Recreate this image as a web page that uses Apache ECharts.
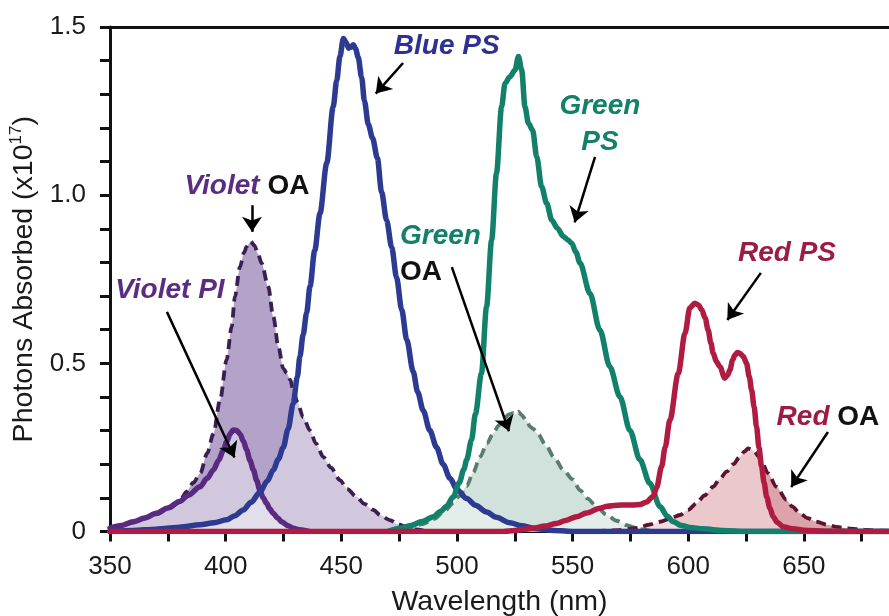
<!DOCTYPE html>
<html>
<head>
<meta charset="utf-8">
<script src="https://cdn.jsdelivr.net/npm/echarts@6/dist/echarts.min.js"></script>
<style>
  html, body { margin: 0; padding: 0; background: #ffffff; }
  #chart { width: 889px; height: 616px; }
</style>
</head>
<body>
<div id="chart"></div>
<script>
// ---- Absorption spectra (wavelength in nm, photons absorbed in units of 1e17) ----

// Violet optical absorber (dashed, filled)
const violetOA_nm  = [350, 355, 360, 365, 370, 375, 380, 381, 383, 386, 389, 392, 394.7, 397.6, 400.4, 402.6, 404, 406.2, 408, 409.1, 410.8, 412.5, 414, 415.6, 418.4, 420.6, 422.8, 424.9, 426.5, 428, 429.2, 431, 433.5, 436.5, 439, 442.2, 445.5, 449.4, 452.5, 456.6, 460, 463.8, 467, 471, 474.5, 478.3, 482, 487];
const violetOA_val = [0.008, 0.017, 0.027, 0.039, 0.051, 0.067, 0.086, 0.100, 0.118, 0.145, 0.173, 0.232, 0.290, 0.391, 0.510, 0.609, 0.698, 0.787, 0.830, 0.847, 0.862, 0.850, 0.825, 0.797, 0.728, 0.639, 0.549, 0.485, 0.470, 0.450, 0.421, 0.385, 0.340, 0.300, 0.262, 0.222, 0.190, 0.153, 0.127, 0.103, 0.082, 0.064, 0.048, 0.034, 0.022, 0.013, 0.006, 0.0];

// Violet photo-inhibitor
const violetPI_nm  = [350, 355, 360, 365, 370, 375, 380, 384, 388.9, 392, 394.7, 397, 399, 400.5, 401.9, 403.3, 404.8, 406.2, 407.7, 409.1, 410.5, 412, 413.4, 414.8, 416.2, 417.7, 419, 420.6, 422.5, 424.2, 427, 429.2, 432, 436];
const violetPI_val = [0.010, 0.018, 0.029, 0.040, 0.054, 0.070, 0.089, 0.108, 0.133, 0.158, 0.183, 0.212, 0.242, 0.268, 0.290, 0.302, 0.300, 0.290, 0.268, 0.242, 0.212, 0.183, 0.152, 0.123, 0.100, 0.084, 0.068, 0.054, 0.040, 0.029, 0.017, 0.010, 0.005, 0.0];

// Blue photosensitiser
const bluePS_nm  = [350, 360, 370, 374.5, 380, 388.9, 395, 400.4, 404, 407.6, 411, 414.8, 418, 420.6, 422.8, 424.9, 427, 429.2, 431, 432.1, 433.5, 435, 436.5, 438.5, 440.8, 443.7, 446.5, 448, 449.4, 450.9, 452, 453.2, 454, 455.2, 456.2, 457.3, 458.8, 460, 461.7, 463.5, 465.6, 467.4, 469.6, 471.8, 473.9, 476.1, 478.3, 481.1, 483, 485.4, 488.3, 491.2, 494, 497, 500, 504.2, 508, 512.8, 517, 522.9, 528, 533, 540, 550, 686.8];
const bluePS_val = [0.0, 0.003, 0.007, 0.010, 0.013, 0.020, 0.026, 0.035, 0.047, 0.064, 0.087, 0.117, 0.150, 0.183, 0.215, 0.250, 0.305, 0.380, 0.460, 0.520, 0.585, 0.650, 0.730, 0.835, 0.946, 1.095, 1.263, 1.340, 1.412, 1.466, 1.455, 1.437, 1.440, 1.447, 1.435, 1.410, 1.350, 1.280, 1.210, 1.170, 1.110, 1.010, 0.925, 0.845, 0.755, 0.660, 0.570, 0.475, 0.415, 0.360, 0.300, 0.250, 0.200, 0.158, 0.125, 0.098, 0.078, 0.058, 0.042, 0.026, 0.017, 0.010, 0.004, 0.0, 0.0];

// Green optical absorber (dashed, filled)
const greenOA_nm  = [470, 475, 480, 485, 490, 494, 498.4, 501, 504.2, 507, 510, 513, 515.7, 518, 520, 522.5, 524.3, 525.5, 526.5, 528, 530, 531.6, 533, 535, 538.8, 542, 546, 550, 553.2, 556.5, 560.4, 564.7, 569, 573.3, 576.2, 580, 585];
const greenOA_val = [0.0, 0.004, 0.012, 0.022, 0.037, 0.056, 0.084, 0.105, 0.135, 0.175, 0.222, 0.262, 0.292, 0.315, 0.332, 0.348, 0.352, 0.348, 0.356, 0.346, 0.330, 0.312, 0.305, 0.290, 0.252, 0.220, 0.183, 0.155, 0.123, 0.098, 0.074, 0.050, 0.032, 0.019, 0.013, 0.006, 0.0];

// Green photosensitiser
const greenPS_nm  = [470, 475.4, 480, 485, 489.8, 493, 495.5, 498.4, 501, 503, 504.2, 506.3, 508, 510.6, 512.8, 515, 517.1, 519.3, 520.8, 522.9, 525.1, 526.6, 528, 529.4, 530.9, 532.7, 534.5, 536.6, 538.8, 541, 543.4, 546, 548, 549.6, 551.5, 553.2, 557.5, 561.8, 566.1, 570.5, 574.8, 579.1, 583.4, 587.8, 591, 593.5, 597, 600.7, 606.5, 615, 625, 686.8];
const greenPS_val = [0.0, 0.010, 0.018, 0.030, 0.044, 0.060, 0.075, 0.103, 0.145, 0.185, 0.213, 0.272, 0.350, 0.470, 0.668, 0.867, 1.065, 1.263, 1.333, 1.352, 1.372, 1.412, 1.372, 1.263, 1.214, 1.194, 1.114, 1.025, 0.976, 0.926, 0.902, 0.877, 0.867, 0.857, 0.830, 0.798, 0.708, 0.599, 0.490, 0.400, 0.300, 0.213, 0.143, 0.074, 0.045, 0.029, 0.018, 0.012, 0.008, 0.003, 0.0, 0.0];

// Red optical absorber (dashed, filled)
const redOA_nm  = [560, 570, 576.2, 579.1, 583, 587.8, 592, 596.4, 600, 603.6, 607, 610.8, 613.5, 616.6, 619.5, 622.3, 624.3, 625.9, 627.4, 628.8, 630.2, 631.7, 634.5, 638.1, 642.5, 645, 648.3, 651.5, 655.5, 660, 664.1, 669, 674.2, 680, 686.8];
const redOA_val = [0.0, 0.004, 0.009, 0.012, 0.020, 0.029, 0.038, 0.049, 0.064, 0.084, 0.107, 0.133, 0.155, 0.178, 0.200, 0.222, 0.238, 0.247, 0.244, 0.237, 0.224, 0.208, 0.173, 0.133, 0.094, 0.074, 0.054, 0.040, 0.029, 0.020, 0.014, 0.009, 0.006, 0.003, 0.002];

// Red photosensitiser
const redPS_nm  = [350, 520, 525, 533, 538, 543, 547, 551.7, 556, 561.8, 565, 569, 573, 576.2, 579.1, 582, 584.9, 586.3, 588.5, 590, 592.1, 595.7, 598.6, 600.7, 602.9, 604.5, 605.8, 607.3, 608.6, 609.8, 610.8, 612.2, 613.7, 615.8, 617, 618, 619.2, 620.2, 621.3, 622.3, 623.8, 625.2, 626.4, 627.4, 628.5, 629.5, 630.6, 631.7, 632.8, 633.9, 635.3, 636.7, 638.5, 641.1, 645.4, 650, 660, 670, 686.8];
const redPS_val = [0.0, 0.0, 0.003, 0.010, 0.016, 0.024, 0.033, 0.044, 0.055, 0.069, 0.075, 0.078, 0.079, 0.079, 0.080, 0.088, 0.105, 0.130, 0.193, 0.250, 0.332, 0.470, 0.589, 0.665, 0.679, 0.673, 0.659, 0.635, 0.599, 0.560, 0.530, 0.505, 0.490, 0.456, 0.465, 0.480, 0.510, 0.525, 0.532, 0.530, 0.520, 0.500, 0.460, 0.421, 0.370, 0.312, 0.250, 0.193, 0.145, 0.103, 0.070, 0.044, 0.027, 0.014, 0.008, 0.004, 0.001, 0.0, 0.0];

// Axis ticks and labels
const xTicks      = [350, 375, 400, 425, 450, 475, 500, 525, 550, 575, 600, 625, 650, 675];
const xTickLabels = [350, 400, 450, 500, 550, 600, 650];
const yTicks      = [0, 0.1, 0.2, 0.3, 0.4, 0.5, 0.6, 0.7, 0.8, 0.9, 1.0, 1.1, 1.2, 1.3, 1.4, 1.5];
const yTickLabels = [0, 0.5, 1.0, 1.5];

// ---- Chart ----
const FONT = "'Liberation Sans', Arial, Helvetica, sans-serif";
const pairs = (xs, ys) => xs.map((x, i) => [x, ys[i]]);
const VEIL = 'rgba(255,255,255,0.4)';

function oaSeries(name, nm, val, lineColor, fillColor) {
  return {
    name, type: 'line', data: pairs(nm, val),
    smooth: 0.3, smoothMonotone: 'x', symbol: 'none',
    lineStyle: { color: lineColor, width: 3.8, type: [10, 6], cap: 'butt' },
    areaStyle: { color: fillColor, opacity: 1 },
    emphasis: { disabled: true }, silent: true
  };
}
function psSeries(name, nm, val, lineColor) {
  return {
    name, type: 'line', data: pairs(nm, val),
    smooth: 0.3, smoothMonotone: 'x', symbol: 'none',
    lineStyle: { color: lineColor, width: 5.5, cap: 'round', join: 'round' },
    areaStyle: { color: VEIL, opacity: 1 },
    emphasis: { disabled: true }, silent: true
  };
}

const bold = (color, italic) => ({
  color, fontFamily: FONT, fontSize: 28, fontWeight: 'bold',
  fontStyle: italic ? 'italic' : 'normal', lineHeight: 36
});
const labelRich = {
  vio: bold('#5b2c83', true),
  blu: bold('#2e3192', true),
  grn: bold('#13806a', true),
  red: bold('#9d1c44', true),
  blk: bold('#111111', false)
};

// annotation labels and arrows, placed in data coordinates
const annotationLabels = [
  { coord: [409.2, 1.027], text: '{vio|Violet} {blk|OA}', align: 'center' },
  { coord: [375.9, 0.718], text: '{vio|Violet PI}', align: 'center' },
  { coord: [495.6, 1.444], text: '{blu|Blue PS}', align: 'center' },
  { coord: [475.4, 0.824], text: '{grn|Green}\n{blk|OA}', align: 'left' },
  { coord: [561.8, 1.212], text: '{grn|Green}\n{grn|PS}', align: 'center' },
  { coord: [642.7, 0.828], text: '{red|Red PS}', align: 'center' },
  { coord: [660.4, 0.340], text: '{red|Red} {blk|OA}', align: 'center' }
];
const annotationArrows = [
  [[411.4, 0.970], [411.4, 0.891]],
  [[374.6, 0.653], [403.8, 0.220]],
  [[476.7, 1.393], [464.9, 1.302]],
  [[497.8, 0.786], [522.5, 0.298]],
  [[559.7, 1.114], [550.9, 0.919]],
  [[631.4, 0.769], [616.9, 0.629]],
  [[660.4, 0.296], [644.5, 0.132]]
];

const annotationSeries = {
  name: 'annotations', type: 'line', data: [], silent: true,
  markLine: {
    silent: true, animation: false,
    symbol: ['none', 'arrow'], symbolSize: 15,
    lineStyle: { color: '#000000', width: 2.5, type: 'solid' },
    itemStyle: { color: '#000000' },
    label: { show: false },
    emphasis: { disabled: true },
    data: annotationArrows.map(a => [{ coord: a[0] }, { coord: a[1] }])
  },
  markPoint: {
    silent: true, animation: false,
    symbol: 'circle', symbolSize: 0,
    itemStyle: { color: 'rgba(0,0,0,0)' },
    data: annotationLabels.map(l => ({
      coord: l.coord,
      label: {
        show: true, position: 'inside', formatter: l.text, align: l.align,
        fontFamily: FONT, fontSize: 28, fontWeight: 'bold', color: '#111',
        lineHeight: 36, rich: labelRich
      }
    }))
  }
};

const X_MAX = 686.8;
const axisColor = '#111111';

const option = {
  animation: false,
  backgroundColor: '#ffffff',
  grid: { left: 110, top: 27, right: 0, bottom: 84.5, containLabel: false, outerBoundsMode: 'none' },
  xAxis: [{
    type: 'value', min: 350, max: X_MAX, position: 'bottom',
    name: 'Wavelength (nm)', nameLocation: 'middle', nameGap: 56,
    nameTextStyle: { fontFamily: FONT, fontSize: 28.5, color: '#1a1a1a' },
    axisLine: { show: true, onZero: false, lineStyle: { color: axisColor, width: 3 } },
    axisTick: { show: true, length: 10, lineStyle: { color: axisColor, width: 3 }, customValues: xTicks },
    axisLabel: { show: true, margin: 22, fontFamily: FONT, fontSize: 26, color: '#1a1a1a',
                 customValues: xTickLabels, formatter: v => String(v) },
    splitLine: { show: false }
  }, {
    type: 'value', min: 350, max: X_MAX, position: 'top',
    axisLine: { show: true, onZero: false, lineStyle: { color: axisColor, width: 3 } },
    axisTick: { show: false }, axisLabel: { show: false }, splitLine: { show: false }
  }],
  yAxis: {
    type: 'value', min: 0, max: 1.5,
    name: '{a|Photons Absorbed (x10}{s|17}{a|)}', nameLocation: 'middle', nameGap: 68,
    nameTextStyle: {
      fontFamily: FONT, fontSize: 28.5, color: '#1a1a1a',
      rich: {
        a: { fontFamily: FONT, fontSize: 28.5, color: '#1a1a1a', lineHeight: 34 },
        s: { fontFamily: FONT, fontSize: 17, color: '#1a1a1a', lineHeight: 34, verticalAlign: 'top' }
      }
    },
    axisLine: { show: true, onZero: false, lineStyle: { color: axisColor, width: 3 } },
    axisTick: { show: true, length: 10, lineStyle: { color: axisColor, width: 3 }, customValues: yTicks },
    axisLabel: { show: true, margin: 24, fontFamily: FONT, fontSize: 26, color: '#1a1a1a',
                 customValues: yTickLabels, formatter: v => (v === 0 ? '0' : v.toFixed(1)) },
    splitLine: { show: false }
  },
  series: [
    oaSeries('Violet OA', violetOA_nm, violetOA_val, '#3a2052', '#b3a3c8'),
    oaSeries('Green OA',  greenOA_nm,  greenOA_val,  '#587c6f', '#b3cec5'),
    oaSeries('Red OA',    redOA_nm,    redOA_val,    '#5c1430', '#dca3ab'),
    psSeries('Violet PI', violetPI_nm, violetPI_val, '#5a2a82'),
    psSeries('Blue PS',   bluePS_nm,   bluePS_val,   '#2c3a92'),
    psSeries('Green PS',  greenPS_nm,  greenPS_val,  '#12806a'),
    psSeries('Red PS',    redPS_nm,    redPS_val,    '#b01b41'),
    annotationSeries
  ]
};

const chart = echarts.init(document.getElementById('chart'), null, { renderer: 'canvas' });
chart.setOption(option);
</script>
</body>
</html>
